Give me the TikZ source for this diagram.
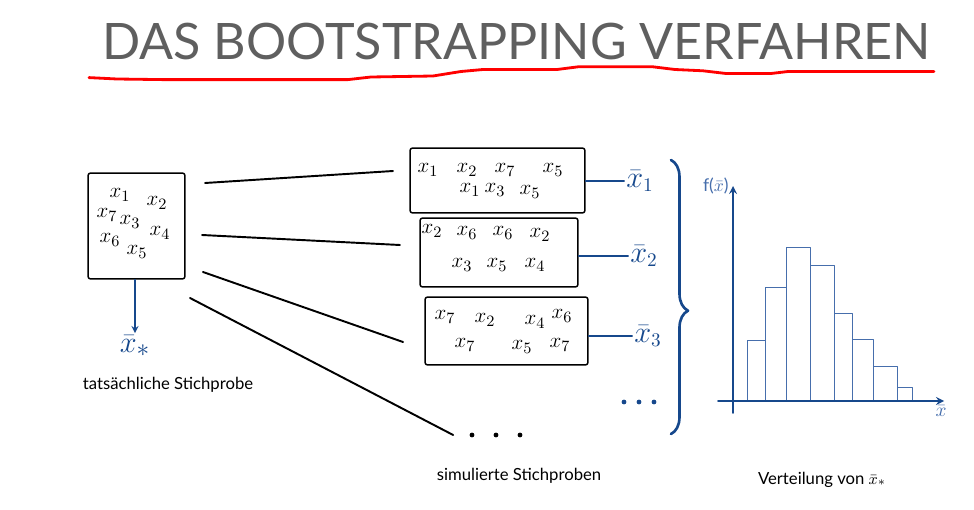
\documentclass[tikz,border=0pt]{standalone}
\usepackage{fontspec}
\setmainfont{Lato}
\usetikzlibrary{decorations.pathreplacing}

\definecolor{inkblue}{RGB}{22,72,140}
\definecolor{barblue}{RGB}{70,110,172}
\definecolor{titlegray}{RGB}{95,95,95}

\tikzset{
  samplebox/.style={draw, line width=0.85pt, rounded corners=1.5pt, inner sep=0pt},
  item/.style={font=\fontsize{13}{13}\selectfont, inner sep=0pt},
  meanlabel/.style={text=inkblue, font=\fontsize{16}{16}\selectfont, inner sep=1pt},
  hand/.style={font=\fontsize{9.5}{10}\selectfont, inner sep=0pt},
  link/.style={line width=1.1pt},
  bluelink/.style={inkblue, line width=0.8pt},
  histbar/.style={barblue, line width=0.5pt},
}

\begin{document}
\begin{tikzpicture}[line cap=round, line join=round, >=stealth, x=0.02cm, y=-0.02cm]
  % Picture bounds
  \useasboundingbox (0,0) rectangle (974,510);

  % Title with red underline
  \node[anchor=base west, inner sep=0pt, text=titlegray, font=\fontsize{28.6}{29}\selectfont] (title) at (102,60) {DAS BOOTSTRAPPING VERFAHREN};
  \draw[red, line width=1.6pt] (89,77.6) -- (117,79) -- (162,79.6) -- (348,79.6) -- (371,77) -- (433,76)
    -- (461,71.5) -- (483,69.5) -- (557,69.5) -- (579,66.7) -- (652,66.7) -- (675,69.5) -- (703,70.8)
    -- (726,73.5) -- (771,73.5) -- (788,71.5) -- (934,71.5);

  % Original sample
  \node[samplebox, minimum width=1.94cm, minimum height=2.12cm] (orig) at (136.5,226) {};
  \foreach \p/\t [count=\i] in {{(120,195)}/1, {(157,203)}/2, {(107,215)}/7, {(130,222)}/3,
                                {(160,233)}/4, {(110,240)}/6, {(137,252)}/5}
    \node[item] (o\i) at \p {$x_{\t}$};

  % Mean of the original sample
  \node[meanlabel, font=\fontsize{19}{19}\selectfont] (mstar) at (135,346) {$\bar{x}_*$};
  \draw[->, bluelink] (orig.south -| mstar) -- (mstar.north);
  \node[hand, anchor=base] (origtext) at (168,389) {tatsächliche Stichprobe};

  % Simulated samples
  \node[samplebox, minimum width=3.5cm, minimum height=1.3cm] (s1) at (497.5,180.5) {};
  \node[samplebox, minimum width=3.16cm, minimum height=1.38cm] (s2) at (499,252.5) {};
  \node[samplebox, minimum width=3.26cm, minimum height=1.36cm] (s3) at (506.5,331) {};
  \foreach \p/\t [count=\i] in {{(428,170)}/1, {(467,170)}/2, {(505,170)}/7, {(553,170)}/5,
                                {(470,190)}/1, {(495,190)}/3, {(530,192)}/5}
    \node[item] (a\i) at \p {$x_{\t}$};
  \foreach \p/\t [count=\i] in {{(432,231)}/2, {(467,233)}/6, {(503,233)}/6, {(540,235)}/2,
                                {(462,265)}/3, {(497,265)}/5, {(535,265)}/4}
    \node[item] (b\i) at \p {$x_{\t}$};
  \foreach \p/\t [count=\i] in {{(445,317)}/7, {(485,320)}/2, {(535,322)}/4, {(562,316)}/6,
                                {(465,345)}/7, {(522,347)}/5, {(560,345)}/7}
    \node[item] (c\i) at \p {$x_{\t}$};

  % Further samples
  \node[inner sep=0pt, minimum width=1.1cm, minimum height=0.2cm] (more) at (496,435) {};
  \foreach \x in {472,496,520}
    \fill (\x,435) circle (2.4);

  % Connectors from the original sample
  \coordinate (p1) at (205,183);
  \coordinate (p2) at (202,235);
  \coordinate (p3) at (203,272);
  \coordinate (p4) at (190,298);
  \coordinate (q1) at (393,171);
  \coordinate (q2) at (400,245);
  \coordinate (q3) at (403,342);
  \draw[link] (p1) -- (q1);
  \draw[link] (p2) -- (q2);
  \draw[link] (p3) -- (q3);
  \draw[link] (p4) -- ([xshift=-0.3cm]more.west);

  % Sample means
  \node[meanlabel] (m1) at (640,181) {$\bar{x}_1$};
  \node[meanlabel] (m2) at (644,256) {$\bar{x}_2$};
  \node[meanlabel] (m3) at (648,336) {$\bar{x}_3$};
  \draw[bluelink] (m1.west -| s1.east) -- (m1.west);
  \draw[bluelink] (m2.west -| s2.east) -- (m2.west);
  \draw[bluelink] (m3.west -| s3.east) -- (m3.west);
  \node[inner sep=0pt, minimum width=0.7cm, minimum height=0.2cm] (mdots) at (639,402) {};
  \foreach \x in {624,639,654}
    \fill[inkblue] (\x,402) circle (2.4);

  % Brace around the means
  \draw[inkblue, line width=1.5pt, decorate, decoration={brace, amplitude=0.34cm, aspect=0.55}]
    (671,160) -- (671,434);

  % Histogram of the means
  \foreach \l/\r/\t in {747/765/340, 765/786/287, 786/810/247, 810/834/265,
                        834/852/313, 852/873/339, 873/897/366, 897/912/387}
    \draw[histbar] (\l,401) rectangle (\r,\t);
  \draw[->, inkblue, line width=1pt] (733,413) -- (733,186);
  \draw[->, inkblue, line width=1pt] (718,401) -- (944,401);
  \node[text=barblue, font=\fontsize{10}{10}\selectfont, inner sep=0pt, anchor=east] (ylab) at (729,186) {f($\bar{x}$)};
  \node[text=barblue, font=\fontsize{11}{11}\selectfont, inner sep=0pt] (xlab) at (941,411) {$\bar{x}$};

  % Captions
  \node[hand, anchor=base] (simtext) at (519,480) {simulierte Stichproben};
  \node[hand, anchor=base] (distext) at (822,484) {Verteilung von $\bar{x}_*$};
\end{tikzpicture}
\end{document}
